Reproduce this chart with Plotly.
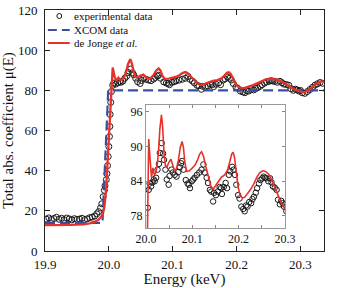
import plotly.graph_objects as go

# ---------------- data ----------------
exp_energy = [
    19.902, 19.906, 19.910, 19.914, 19.918, 19.922, 19.926, 19.930, 19.934, 19.938,
    19.942, 19.946, 19.950, 19.954, 19.958, 19.962, 19.966, 19.970, 19.974, 19.978,
    19.981, 19.984, 19.987, 19.989, 19.991, 19.993, 19.994, 19.996, 19.997, 19.998,
    19.999, 20.000, 20.001, 20.0015, 20.002, 20.003,
    20.004, 20.006, 20.008, 20.011, 20.014, 20.017, 20.019, 20.022, 20.025, 20.028,
    20.030, 20.034, 20.037, 20.039, 20.042, 20.045, 20.049, 20.051, 20.055, 20.058,
    20.062, 20.066, 20.070, 20.073, 20.076, 20.078, 20.081, 20.086, 20.090, 20.093,
    20.095, 20.099, 20.102, 20.105, 20.110, 20.115, 20.120, 20.124, 20.127, 20.131,
    20.134, 20.138, 20.141, 20.145, 20.147, 20.151, 20.155, 20.159, 20.162, 20.164,
    20.168, 20.172, 20.175, 20.179, 20.182, 20.186, 20.189, 20.192, 20.195, 20.199,
    20.202, 20.206, 20.210, 20.213, 20.216, 20.219, 20.223, 20.227, 20.230, 20.233,
    20.237, 20.240, 20.244, 20.247, 20.251, 20.254, 20.257, 20.260, 20.264, 20.268,
    20.271, 20.274, 20.278, 20.282, 20.285, 20.289, 20.292, 20.295, 20.298, 20.300,
    20.303, 20.307, 20.311, 20.315, 20.319, 20.323, 20.327, 20.331, 20.335,
]
exp_mu = [
    15.9, 16.5, 15.7, 16.2, 16.8, 15.8, 16.3, 15.6, 16.4, 16.0,
    15.5, 16.1, 15.7, 15.9, 16.3, 15.6, 16.0, 16.6, 16.9, 17.4,
    18.5, 19.6, 21.4, 23.5, 27.0, 30.2, 32.5, 35.5, 38.5, 42.5,
    47.0, 52.0, 57.0, 62.0, 68.0, 74.0,
    79.4, 82.5, 83.6, 83.1, 83.8, 84.3, 84.0, 84.6, 86.0, 87.0,
    88.9, 90.6, 88.8, 87.7, 86.0, 84.3, 83.4, 84.9, 86.0, 85.5,
    85.1, 84.8, 85.6, 86.4, 87.1, 87.5, 86.0, 84.2, 83.6, 83.4,
    82.8, 84.0, 84.3, 84.6, 85.1, 85.5, 86.0, 86.9, 85.5, 84.6,
    83.7, 82.5, 82.2, 80.5, 82.0, 81.6, 82.2, 83.0, 82.8, 81.8,
    83.0, 83.7, 82.8, 85.1, 85.7, 86.5, 86.0, 85.1, 83.4, 81.6,
    81.0, 79.6, 79.2, 78.8, 79.8, 79.6, 80.4, 80.2, 80.9, 81.3,
    82.0, 82.8, 83.6, 84.2, 84.5, 84.8, 84.6, 84.5, 84.0, 84.5,
    83.8, 83.1, 82.9, 82.5, 80.8, 80.0, 80.6, 80.2, 79.6, 80.0,
    78.8, 78.5, 79.4, 80.4, 81.5, 82.6, 83.3, 83.9, 83.5,
]

xcom_energy = [19.900, 19.990, 19.999, 20.337]
xcom_mu = [14.0, 14.0, 80.0, 80.0]

dj_energy = [
    19.900, 19.920, 19.940, 19.960, 19.970, 19.978, 19.984, 19.988, 19.991, 19.993,
    19.995, 19.997, 19.999, 20.001, 20.003, 20.004, 20.005, 20.006, 20.007, 20.009,
    20.012, 20.015, 20.018, 20.021, 20.024, 20.027, 20.030, 20.0335, 20.036, 20.039,
    20.042, 20.045, 20.049, 20.054, 20.058, 20.062, 20.066, 20.070, 20.074, 20.078,
    20.081, 20.084, 20.088, 20.094, 20.100, 20.106, 20.111, 20.116, 20.120, 20.124,
    20.129, 20.135, 20.140, 20.145, 20.150, 20.156, 20.163, 20.170, 20.176, 20.181,
    20.185, 20.188, 20.191, 20.195, 20.199, 20.203, 20.208, 20.213, 20.219, 20.226,
    20.233, 20.240, 20.246, 20.252, 20.258, 20.264, 20.270, 20.277, 20.284, 20.291,
    20.298, 20.303, 20.308, 20.314, 20.320, 20.326, 20.332, 20.337,
]
dj_mu = [
    12.9, 12.9, 13.0, 13.3, 13.8, 14.6, 15.6, 17.0, 18.9, 22.0,
    28.0, 38.0, 50.0, 63.0, 76.0, 83.0, 88.5, 91.3, 90.0, 86.8,
    84.6, 86.3, 85.2, 85.4, 86.6, 89.0, 93.0, 95.5, 93.5, 89.0,
    86.7, 86.4, 87.2, 87.8, 86.6, 85.7, 86.2, 87.6, 89.8, 90.9,
    89.8, 87.2, 85.7, 85.8, 86.3, 86.8, 87.6, 88.7, 89.1, 88.4,
    86.6, 84.6, 83.2, 82.6, 83.2, 84.0, 84.7, 85.1, 85.9, 87.4,
    88.7, 89.0, 88.2, 85.6, 83.0, 81.6, 81.1, 81.2, 81.8, 82.6,
    83.6, 84.8, 85.5, 85.8, 85.7, 85.3, 84.5, 83.3, 81.8, 80.4,
    79.4, 79.0, 79.3, 80.4, 82.0, 83.6, 84.3, 84.5,
]

x_ticks = [19.9, 20.0, 20.1, 20.2, 20.3]
y_ticks = [0, 20, 40, 60, 80, 100, 120]
inset_x_ticks = [20.0, 20.1, 20.2, 20.3]
inset_y_ticks = [78, 84, 90, 96]

legend_labels = ["experimental data", "XCOM data", "de Jonge <i>et al.</i>"]

# ---------------- layout constants ----------------
W, H = 338, 288
ML, MR, MT, MB = 42, 3, 10, 37
PW, PH = W - ML - MR, H - MT - MB
FONT = "Liberation Serif"
RED = "#e8312b"
BLUE = "#3b4ea3"
BLACK = "#1a1a1a"


def px_x(px):
    return (px - ML) / PW


def px_y(py):
    return (H - MB - py) / PH


fig = go.Figure()

# main plot traces
fig.add_trace(go.Scatter(x=exp_energy, y=exp_mu, mode="markers",
                         marker=dict(symbol="circle-open", size=6, color=BLACK,
                                     line=dict(width=1, color=BLACK)),
                         xaxis="x", yaxis="y", showlegend=False))
fig.add_trace(go.Scatter(x=xcom_energy, y=xcom_mu, mode="lines",
                         line=dict(color=BLUE, width=2.2, dash="10px,5px"),
                         xaxis="x", yaxis="y", showlegend=False))
fig.add_trace(go.Scatter(x=dj_energy, y=dj_mu, mode="lines",
                         line=dict(color=RED, width=2.3),
                         xaxis="x", yaxis="y", showlegend=False))

# inset traces
fig.add_trace(go.Scatter(x=exp_energy, y=exp_mu, mode="markers",
                         marker=dict(symbol="circle-open", size=5.5, color=BLACK,
                                     line=dict(width=1, color=BLACK)),
                         xaxis="x2", yaxis="y2", showlegend=False, cliponaxis=True))
fig.add_trace(go.Scatter(x=dj_energy, y=dj_mu, mode="lines",
                         line=dict(color=RED, width=1.6),
                         xaxis="x2", yaxis="y2", showlegend=False))

ix0, ix1 = px_x(148), px_x(294)
iy0, iy1 = px_y(228), px_y(105)

axis_font = dict(family=FONT, size=13, color="#111")
fig.update_layout(
    width=W, height=H,
    margin=dict(l=ML, r=MR, t=MT, b=MB),
    paper_bgcolor="white", plot_bgcolor="white",
    font=dict(family=FONT, color="#111"),
    xaxis=dict(domain=[0, 1], range=[19.9, 20.337], tickvals=x_ticks,
               ticktext=[f"{v:.1f}" for v in x_ticks], tickfont=axis_font,
               ticks="inside", ticklen=5, tickcolor="#222", showgrid=False,
               zeroline=False, showline=True, linecolor="#222", linewidth=1,
               mirror="ticks", ticklabelstandoff=1,
               title=dict(text="Energy (keV)", font=dict(family=FONT, size=15), standoff=3)),
    yaxis=dict(domain=[0, 1], range=[0, 120], tickvals=y_ticks, tickfont=axis_font,
               ticks="inside", ticklen=5, tickcolor="#222", showgrid=False,
               zeroline=False, showline=True, linecolor="#222", linewidth=1,
               mirror="ticks", ticklabelstandoff=4,
               title=dict(text="Total abs. coefficient μ(E)", font=dict(family=FONT, size=15), standoff=4)),
    xaxis2=dict(domain=[ix0, ix1], anchor="y2", range=[20.0, 20.3], tickvals=inset_x_ticks,
                ticktext=[f"{v:.1f}" for v in inset_x_ticks],
                tickfont=dict(family=FONT, size=12, color="#111"),
                ticks="inside", ticklen=3, tickcolor="#888", showgrid=False,
                zeroline=False, showline=True, linecolor="#999", linewidth=1,
                mirror="ticks", minor=dict(dtick=0.05, ticks="inside", ticklen=3, tickcolor="#888")),
    yaxis2=dict(domain=[iy0, iy1], anchor="x2", range=[75.9, 97.2], tickvals=inset_y_ticks,
                tickfont=dict(family=FONT, size=12, color="#111"),
                ticks="inside", ticklen=3, tickcolor="#888", showgrid=False,
                zeroline=False, showline=True, linecolor="#999", linewidth=1,
                mirror="ticks"),
)

# manual legend (top-left)
shapes = []
annotations = []
rows_y = [16, 30, 43]
shapes.append(dict(type="circle", xref="paper", yref="paper",
                   x0=px_x(54.5), x1=px_x(59.5), y0=px_y(rows_y[0] + 2.5), y1=px_y(rows_y[0] - 2.5),
                   line=dict(color=BLACK, width=1)))
shapes.append(dict(type="line", xref="paper", yref="paper",
                   x0=px_x(45), x1=px_x(68), y0=px_y(rows_y[1]), y1=px_y(rows_y[1]),
                   line=dict(color=BLUE, width=2.2, dash="9px,5px")))
shapes.append(dict(type="line", xref="paper", yref="paper",
                   x0=px_x(45), x1=px_x(68), y0=px_y(rows_y[2]), y1=px_y(rows_y[2]),
                   line=dict(color=RED, width=2)))
for lab, ry in zip(legend_labels, rows_y):
    annotations.append(dict(text=lab, xref="paper", yref="paper", x=px_x(70), y=px_y(ry),
                            xanchor="left", yanchor="middle", showarrow=False,
                            font=dict(family=FONT, size=11, color="#111")))
fig.update_layout(shapes=shapes, annotations=annotations)

fig.write_html("out.html")
